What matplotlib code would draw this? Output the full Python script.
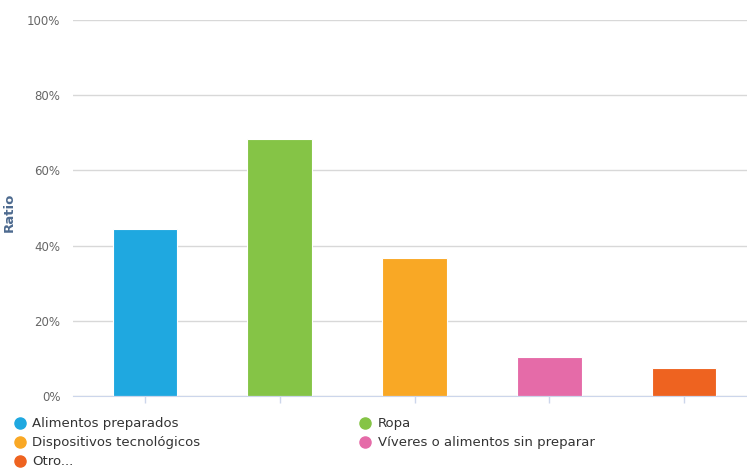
import matplotlib
matplotlib.use("Agg")
import matplotlib.pyplot as plt
from matplotlib.lines import Line2D

categories = ["Alimentos preparados", "Ropa", "Dispositivos tecnológicos",
              "Víveres o alimentos sin preparar", "Otro..."]
values = [44.3, 68.4, 36.6, 10.4, 7.5]
colors = ["#1FA8E0", "#85C446", "#F9A825", "#E56BA8", "#EE6320"]
yticks = [0, 20, 40, 60, 80, 100]
ytick_labels = ["0%", "20%", "40%", "60%", "80%", "100%"]

plt.rcParams['font.family'] = ['DejaVu Sans']
fig = plt.figure(figsize=(7.47, 4.71), dpi=100)
W, H = 747, 471
ax = fig.add_axes([73 / W, 1 - 396 / H, (747 - 73) / W, (396 - 20) / H])

x = list(range(len(categories)))
ax.bar(x, values, width=0.48, color=colors, edgecolor="white", linewidth=0.8, zorder=3)
ax.set_xlim(-0.534, 4.467)
ax.set_ylim(0, 100)
ax.set_yticks(yticks)
ax.set_yticklabels(ytick_labels, color="#666666", fontsize=8.5)
ax.yaxis.grid(True, color="#d8d8d8", linewidth=1, zorder=0)
ax.tick_params(axis="y", length=0, pad=9)
ax.set_xticks(x)
ax.set_xticklabels([])
ax.tick_params(axis="x", length=5, color="#ccd6eb", width=1)
for s in ["top", "right", "left"]:
    ax.spines[s].set_visible(False)
ax.spines["bottom"].set_color("#ccd6eb")
ax.spines["bottom"].set_zorder(4)
ax.set_ylabel("Ratio", color="#4d6a8f", fontsize=9.5, fontweight="bold")
ax.yaxis.set_label_coords((16 - 73) / 674, (396 - 212) / 376)

order = [0, 2, 4, 1, 3]
handles = [Line2D([0], [0], marker="o", linestyle="", markersize=8,
                  markerfacecolor=colors[i], markeredgecolor=colors[i]) for i in order]
labels = [categories[i] for i in order]
leg = fig.legend(handles, labels, loc="upper left", bbox_to_anchor=(8 / W, 1 - 412 / H),
                 ncol=2, frameon=False, fontsize=9.5, handletextpad=0.45,
                 columnspacing=12.0, labelspacing=0.45, handlelength=1.0, borderaxespad=0)
for t in leg.get_texts():
    t.set_color("#333333")

fig.savefig("out.png", dpi=100)
